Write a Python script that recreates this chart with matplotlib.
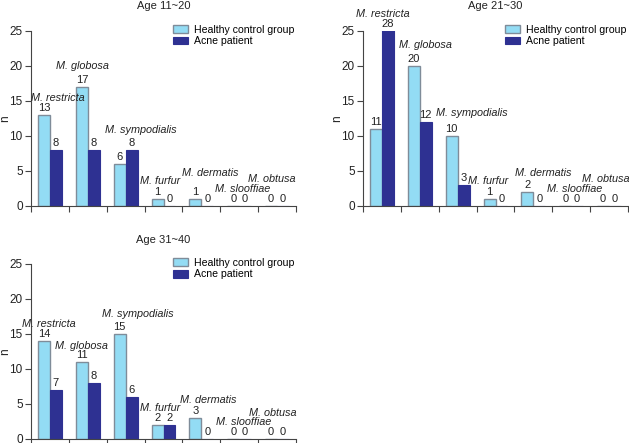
import matplotlib
matplotlib.use('Agg')
import matplotlib.pyplot as plt
import numpy as np

plt.rcParams['font.family'] = ['Liberation Sans', 'DejaVu Sans']

species = ['M. restricta', 'M. globosa', 'M. sympodialis', 'M. furfur',
           'M. dermatis', 'M. slooffiae', 'M. obtusa']
titles = ['Age 11~20', 'Age 21~30', 'Age 31~40']

healthy_11_20 = [13, 17, 6, 1, 1, 0, 0]
acne_11_20 = [8, 8, 8, 0, 0, 0, 0]
healthy_21_30 = [11, 20, 10, 1, 2, 0, 0]
acne_21_30 = [28, 12, 3, 0, 0, 0, 0]
healthy_31_40 = [14, 11, 15, 2, 3, 0, 0]
acne_31_40 = [7, 8, 6, 2, 0, 0, 0]

# species label placement: (x offset from group start, height above group max)
label_pos = [
    [(0.71, 2.4), (0.36, 2.9), (0.89, 2.8), (0.42, 2.5),
     (0.74, 3.7), (0.58, 2.4), (0.37, 3.8)],
    [(0.52, -0.6), (0.64, 2.9), (0.87, 3.2), (0.3, 2.5),
     (0.75, 2.7), (0.6, 2.4), (0.41, 3.8)],
    [(0.46, 2.4), (0.32, 2.3), (0.81, 2.8), (0.42, 2.4),
     (0.69, 2.6), (0.61, 2.4), (0.39, 3.7)],
]

c_healthy = '#93DCF4'
c_acne = '#2E3192'
edge = '#7F8C99'

fig = plt.figure(figsize=(6.29, 4.43), dpi=100)
W, H = 629.0, 443.0
boxes = [(31, 296, 205.7, 30.7), (363, 628, 205.7, 30.7), (31, 296, 438.7, 264.0)]
# right edge of the rotated "n"
ylab_x = [(11 - 31) / 265.0, (343 - 363) / 265.0, (11 - 31) / 265.0]
data = [(healthy_11_20, acne_11_20), (healthy_21_30, acne_21_30),
        (healthy_31_40, acne_31_40)]

w = 0.315
x = np.arange(len(species))
for k in range(3):
    l, r, b, t = boxes[k]
    ax = fig.add_axes([l / W, 1 - b / H, (r - l) / W, (b - t) / H])
    hv, av = data[k]
    ax.bar(x + 0.5 - w / 2, hv, w, color=c_healthy, edgecolor=edge, linewidth=1,
           label='Healthy control group')
    ax.bar(x + 0.5 + w / 2, av, w, color=c_acne, edgecolor=c_acne, linewidth=0.8,
           label='Acne patient')
    ax.set_xlim(0, len(species))
    ax.set_ylim(0, 25)
    for i in range(len(species)):
        for xx, v in [(x[i] + 0.5 - w / 2, hv[i]), (x[i] + 0.5 + w / 2, av[i])]:
            ax.annotate(str(v), (xx, min(v, 25)), xytext=(0, 1.5),
                        textcoords='offset points', ha='center', va='bottom',
                        fontsize=8, color='#222222', annotation_clip=False)
        dx, dy = label_pos[k][i]
        top = min(max(hv[i], av[i]), 28)
        ax.text(i + dx, top + dy, species[i], style='italic', fontsize=7.8,
                ha='center', va='center', color='#222222', clip_on=False)
    ax.set_xticks(np.arange(0, len(species) + 1))
    ax.set_xticklabels([])
    ax.set_yticks([0, 5, 10, 15, 20, 25])
    ax.tick_params(axis='both', length=4, width=0.8, color='#444444',
                   labelsize=8.5, labelcolor='#222222', pad=2)
    for s in ['top', 'right']:
        ax.spines[s].set_visible(False)
    for s in ['left', 'bottom']:
        ax.spines[s].set_color('#444444')
        ax.spines[s].set_linewidth(0.8)
    ax.set_ylabel('n', fontsize=8.5, color='#222222')
    ax.yaxis.set_label_coords(ylab_x[k], 0.5)
    ax.text(0.5, 1.14, titles[k], transform=ax.transAxes, ha='center',
            va='center', fontsize=8, color='#222222')
    ax.legend(loc='upper left', bbox_to_anchor=(0.535, 1.035), frameon=False,
              fontsize=7.6, handlelength=1.4, handleheight=0.75,
              handletextpad=0.6, labelspacing=0.15, borderpad=0,
              borderaxespad=0)

fig.savefig('out.png', dpi=100)
